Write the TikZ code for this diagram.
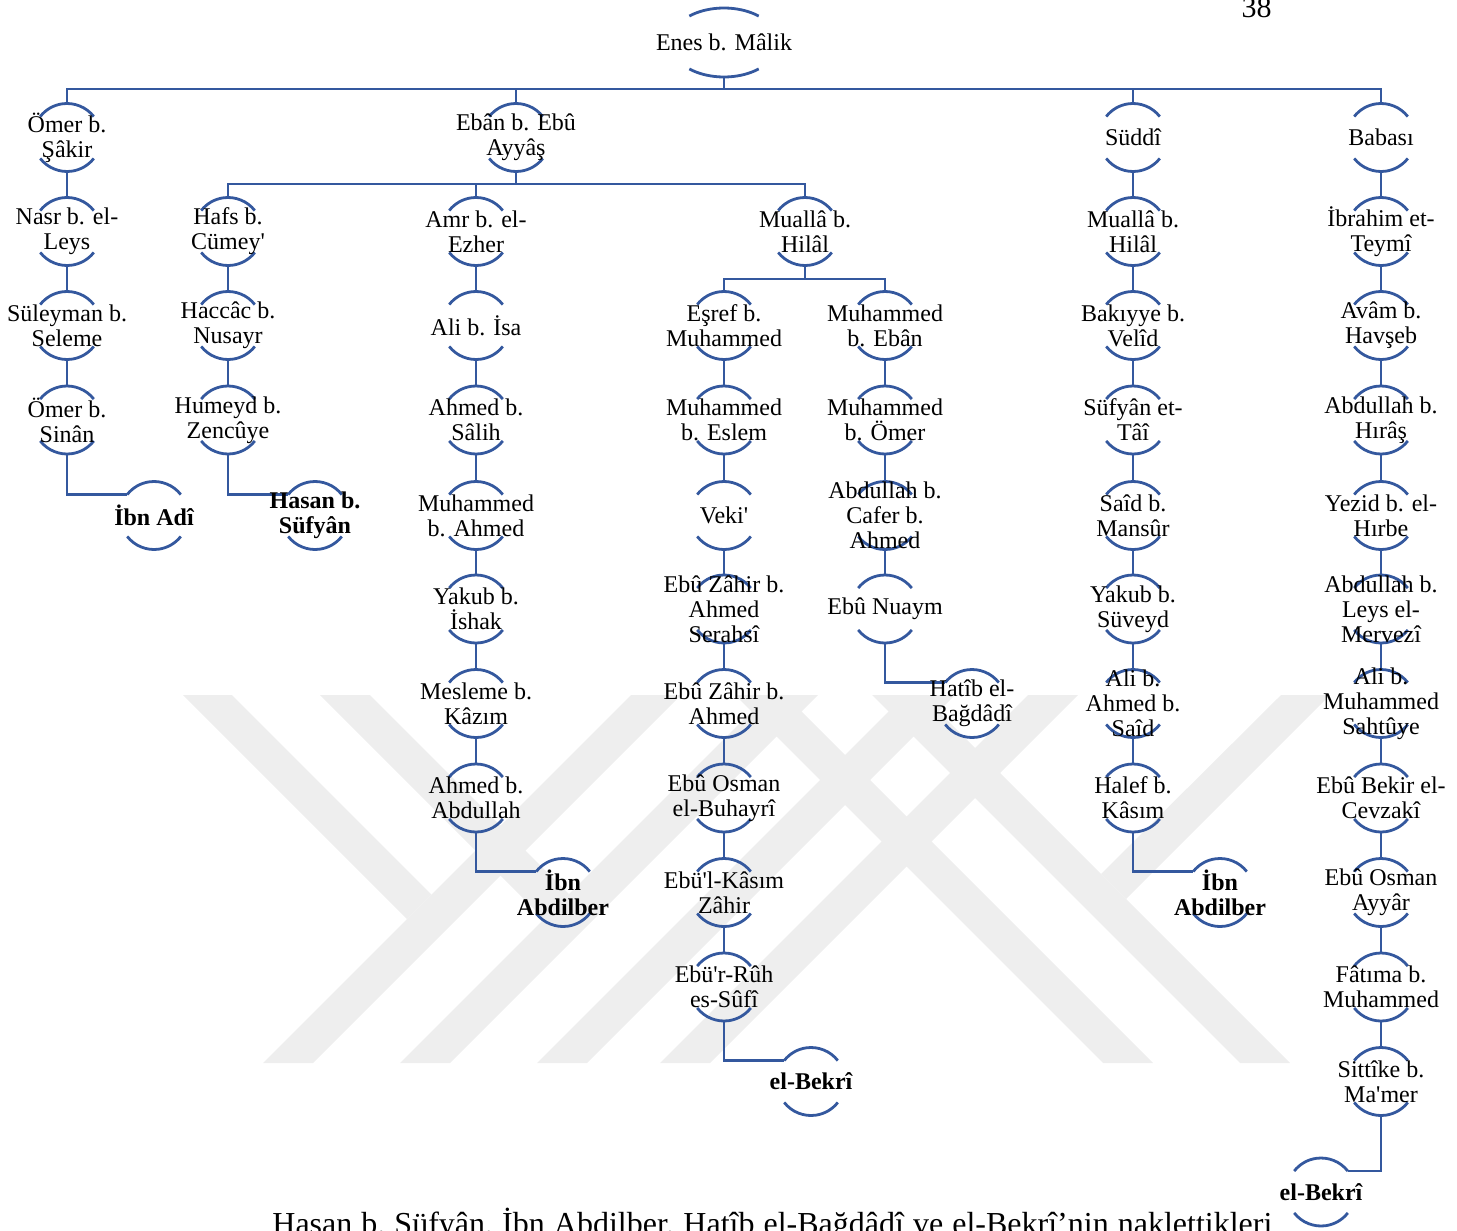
\documentclass[tikz,border=0pt]{standalone}
\usepackage{fontspec}
\setmainfont{Liberation Serif}
\usetikzlibrary{shapes.geometric}
\definecolor{linkblue}{RGB}{52,88,158}
\definecolor{markgray}{RGB}{238,238,238}
\pgfdeclarelayer{mark}
\pgfdeclarelayer{lines}
\pgfsetlayers{mark,lines,main}
\newcommand\ap{\textquotesingle}
\tikzset{
  nametext/.style={font=\fontsize{12}{12.5}\selectfont, align=center, inner sep=0pt},
  person/.style={circle, minimum size=34pt, inner sep=0pt, outer sep=0pt,
    label={[nametext]center:#1}},
  source/.style={circle, minimum size=34pt, inner sep=0pt, outer sep=0pt,
    label={[nametext, font=\fontsize{12}{12.5}\selectfont\bfseries]center:#1}},
  link/.style={draw=linkblue, line width=1.4pt},
  bracket/.style={draw=linkblue, line width=1.4pt},
  pagetext/.style={font=\fontsize{15}{18}\selectfont, inner sep=0pt},
  captiontext/.style={font=\fontsize{16}{19}\selectfont\frenchspacing, inner sep=0pt},
}
\begin{document}
\begin{tikzpicture}[x=0.5pt, y=-0.5pt]
\useasboundingbox (0,0) rectangle (1457,1231);

% row heights
\def\ra{137.5}\def\rb{231.5}\def\rc{325.5}\def\rd{420}\def\re{515.5}\def\rf{609}
\def\rg{703.5}\def\rh{798}\def\ri{892.5}\def\rj{987}\def\rk{1081.5}

% root
\node[ellipse, minimum width=54pt, minimum height=34.5pt, inner sep=0pt, outer sep=0pt,
  label={[nametext]center:Enes b. Mâlik}] (root) at (724,42.5) {};

% first generation
\node[person={Ömer b.\\Şâkir}] (a1) at (67,\ra) {};
\node[person={Ebân b. Ebû\\Ayyâş}] (e1) at (516,\ra) {};
\node[person={Süddî}] (f1) at (1133,\ra) {};
\node[person={Babası}] (g1) at (1381,\ra) {};

% column A
\node[person={Nasr b. el-\\Leys}] (a2) at (67,\rb) {};
\node[person={Süleyman b.\\Seleme}] (a3) at (67,\rc) {};
\node[person={Ömer b.\\Sinân}] (a4) at (67,\rd) {};
\node[source={İbn Adî}] (la) at (154,\re) {};

% column B
\node[person={Hafs b.\\Cümey\ap}] (b2) at (228,\rb) {};
\node[person={Haccâc b.\\Nusayr}] (b3) at (228,\rc) {};
\node[person={Humeyd b.\\Zencûye}] (b4) at (228,\rd) {};
\node[source={Hasan b.\\Süfyân}] (lb) at (315,\re) {};

% column C
\node[person={Amr b. el-\\Ezher}] (c2) at (476,\rb) {};
\node[person={Ali b. İsa}] (c3) at (476,\rc) {};
\node[person={Ahmed b.\\Sâlih}] (c4) at (476,\rd) {};
\node[person={Muhammed\\b. Ahmed}] (c5) at (476,\re) {};
\node[person={Yakub b.\\İshak}] (c6) at (476,\rf) {};
\node[person={Mesleme b.\\Kâzım}] (c7) at (476,\rg) {};
\node[person={Ahmed b.\\Abdullah}] (c8) at (476,\rh) {};
\node[source={İbn\\Abdilber}] (lc) at (563,\ri) {};

% Mualla b. Hilal and his two lines
\node[person={Muallâ b.\\Hilâl}] (m2) at (805,\rb) {};
\node[person={Eşref b.\\Muhammed}] (d3) at (724,\rc) {};
\node[person={Muhammed\\b. Eslem}] (d4) at (724,\rd) {};
\node[person={Veki\ap}] (d5) at (724,\re) {};
\node[person={Ebû Zâhir b.\\Ahmed\\Serahsî}] (d6) at (724,\rf) {};
\node[person={Ebû Zâhir b.\\Ahmed}] (d7) at (724,\rg) {};
\node[person={Ebû Osman\\el-Buhayrî}] (d8) at (724,\rh) {};
\node[person={Ebü\ap l-Kâsım\\Zâhir}] (d9) at (724,\ri) {};
\node[person={Ebü\ap r-Rûh\\es-Sûfî}] (d10) at (724,\rj) {};
\node[source={el-Bekrî}] (ld) at (811,\rk) {};

\node[person={Muhammed\\b. Ebân}] (e3) at (885,\rc) {};
\node[person={Muhammed\\b. Ömer}] (e4) at (885,\rd) {};
\node[person={Abdullah b.\\Cafer b.\\Ahmed}] (e5) at (885,\re) {};
\node[person={Ebû Nuaym}] (e6) at (885,\rf) {};
\node[person={Hatîb el-\\Bağdâdî}] (le) at (972,\rg) {};

% column F
\node[person={Muallâ b.\\Hilâl}] (f2) at (1133,\rb) {};
\node[person={Bakıyye b.\\Velîd}] (f3) at (1133,\rc) {};
\node[person={Süfyân et-\\Tâî}] (f4) at (1133,\rd) {};
\node[person={Saîd b.\\Mansûr}] (f5) at (1133,\re) {};
\node[person={Yakub b.\\Süveyd}] (f6) at (1133,\rf) {};
\node[person={Ali b.\\Ahmed b.\\Saîd}] (f7) at (1133,\rg) {};
\node[person={Halef b.\\Kâsım}] (f8) at (1133,\rh) {};
\node[source={İbn\\Abdilber}] (lf) at (1220,\ri) {};

% column G
\node[person={İbrahim et-\\Teymî}] (g2) at (1381,\rb) {};
\node[person={Avâm b.\\Havşeb}] (g3) at (1381,\rc) {};
\node[person={Abdullah b.\\Hırâş}] (g4) at (1381,\rd) {};
\node[person={Yezid b. el-\\Hırbe}] (g5) at (1381,\re) {};
\node[person={Abdullah b.\\Leys el-\\Mervezî}] (g6) at (1381,\rf) {};
\node[person={Ali b.\\Muhammed\\Sahtûye}] (g7) at (1381,\rg) {};
\node[person={Ebû Bekir el-\\Cevzakî}] (g8) at (1381,\rh) {};
\node[person={Ebû Osman\\Ayyâr}] (g9) at (1381,\ri) {};
\node[person={Fâtıma b.\\Muhammed}] (g10) at (1381,\rj) {};
\node[person={Sittîke b.\\Ma\ap mer}] (g11) at (1381,\rk) {};
\node[source={el-Bekrî}] (lg) at (1321,1192) {};

% page number and caption
\node[pagetext, anchor=base east] (pageno) at (1272,18) {38};
\node[captiontext, anchor=base west] (caption) at (272,1234)
  {\makebox[500pt][s]{Hasan b. Süfyân, İbn Abdilber, Hatîb el-Bağdâdî ve el-Bekrî’nin naklettikleri}};

% connectors and node brackets
\begin{pgfonlayer}{lines}
  \coordinate (bus0) at (724,89);
  \coordinate (bus1) at (516,184);
  \coordinate (bus2) at (805,279);
  \draw[link] (root.south) -- (bus0);
  \draw[link] (a1.north) |- (bus0) -| (g1.north);
  \draw[link] (e1.north) -- (e1.north |- bus0);
  \draw[link] (f1.north) -- (f1.north |- bus0);
  \draw[link] (e1.south) -- (bus1);
  \draw[link] (b2.north) |- (bus1) -| (m2.north);
  \draw[link] (c2.north) -- (c2.north |- bus1);
  \draw[link] (m2.south) -- (bus2);
  \draw[link] (d3.north) |- (bus2) -| (e3.north);
  \foreach \p/\c in {a1/a2,a2/a3,a3/a4,b2/b3,b3/b4,c2/c3,c3/c4,c4/c5,c5/c6,c6/c7,c7/c8,
      d3/d4,d4/d5,d5/d6,d6/d7,d7/d8,d8/d9,d9/d10,e3/e4,e4/e5,e5/e6,
      f1/f2,f2/f3,f3/f4,f4/f5,f5/f6,f6/f7,f7/f8,
      g1/g2,g2/g3,g3/g4,g4/g5,g5/g6,g6/g7,g7/g8,g8/g9,g9/g10,g10/g11}
    \draw[link] (\p.south) -- (\c.north);
  \draw[link] (a4.south) |- (la.142);
  \draw[link] (b4.south) |- (lb.142);
  \draw[link] (c8.south) |- (lc.142);
  \draw[link] (d10.south) |- (ld.142);
  \draw[link] (e6.south) |- (le.142);
  \draw[link] (f8.south) |- (lf.142);
  \draw[link] (g11.south) |- (lg.38);

  \draw[bracket] ([shift={(50:27pt and 17.25pt)}]root.center)
      arc[start angle=50, end angle=130, x radius=27pt, y radius=17.25pt];
  \draw[bracket] ([shift={(230:27pt and 17.25pt)}]root.center)
      arc[start angle=230, end angle=310, x radius=27pt, y radius=17.25pt];
  \foreach \n in {a1,a2,a3,a4,la,b2,b3,b4,lb,e1,c2,c3,c4,c5,c6,c7,c8,lc,
      m2,d3,d4,d5,d6,d7,d8,d9,d10,ld,e3,e4,e5,e6,le,
      f1,f2,f3,f4,f5,f6,f7,f8,lf,g1,g2,g3,g4,g5,g6,g7,g8,g9,g10,g11,lg}
  {
    \draw[bracket] ([shift={(38:17pt)}]\n.center) arc[start angle=38, end angle=142, radius=17pt];
    \draw[bracket] ([shift={(218:17pt)}]\n.center) arc[start angle=218, end angle=322, radius=17pt];
  }
\end{pgfonlayer}

% faint emblem behind the chart: diagonal bands
\begin{pgfonlayer}{mark}
  % rising strokes
  \fill[markgray] (263,1063) -- (313,1063) -- (681,695) -- (631,695) -- cycle;
  \fill[markgray] (400,1063) -- (450,1063) -- (818,695) -- (768,695) -- cycle;
  \fill[markgray] (537,1063) -- (587,1063) -- (955,695) -- (905,695) -- cycle;
  \fill[markgray] (660,1063) -- (710,1063) -- (1078,695) -- (1028,695) -- cycle;
  % short falling arms on the left
  \fill[markgray] (183,695) -- (232,695) -- (431.5,894.5) -- (407,919) -- cycle;
  \fill[markgray] (320,695) -- (370,695) -- (569,894) -- (544,919) -- cycle;
  % falling strokes on the right
  \fill[markgray] (735,695) -- (785,695) -- (1153,1063) -- (1103,1063) -- cycle;
  \fill[markgray] (872,695) -- (922,695) -- (1290,1063) -- (1240,1063) -- cycle;
  % short rising arm on the right
  \fill[markgray] (1330,695) -- (1281,695) -- (1101,874) -- (1126,899) -- cycle;
\end{pgfonlayer}
\end{tikzpicture}
\end{document}
